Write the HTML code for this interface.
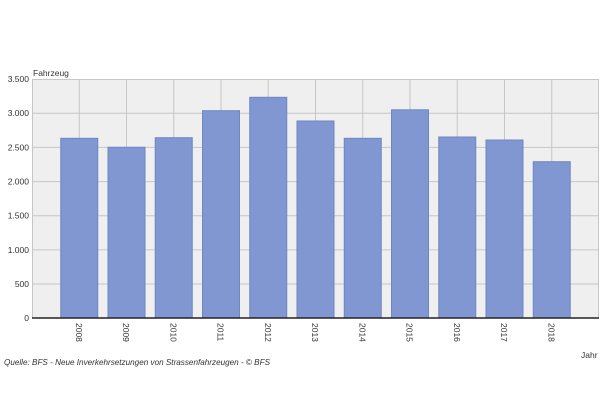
<!DOCTYPE html>
<html><head><meta charset="utf-8"><style>
html,body{margin:0;padding:0;background:#fff;}
svg{display:block;font-family:"Liberation Sans",Arial,sans-serif;}
</style></head><body>
<svg width="606" height="402" viewBox="0 0 606 402" xmlns="http://www.w3.org/2000/svg">
<rect x="0" y="0" width="606" height="402" fill="#fff"/>
<rect x="32" y="79" width="567" height="239" fill="#efefef"/>
<g stroke="#c6c6c6" stroke-width="1">
<line x1="32" y1="79.5" x2="599" y2="79.5"/>
<line x1="32" y1="113.3" x2="599" y2="113.3"/>
<line x1="32" y1="147.4" x2="599" y2="147.4"/>
<line x1="32" y1="181.6" x2="599" y2="181.6"/>
<line x1="32" y1="215.7" x2="599" y2="215.7"/>
<line x1="32" y1="249.9" x2="599" y2="249.9"/>
<line x1="32" y1="284" x2="599" y2="284"/>
<line x1="32.5" y1="79" x2="32.5" y2="318"/>
<line x1="79.25" y1="79" x2="79.25" y2="318"/>
<line x1="126.5" y1="79" x2="126.5" y2="318"/>
<line x1="173.75" y1="79" x2="173.75" y2="318"/>
<line x1="221" y1="79" x2="221" y2="318"/>
<line x1="268.25" y1="79" x2="268.25" y2="318"/>
<line x1="315.5" y1="79" x2="315.5" y2="318"/>
<line x1="362.75" y1="79" x2="362.75" y2="318"/>
<line x1="410" y1="79" x2="410" y2="318"/>
<line x1="457.25" y1="79" x2="457.25" y2="318"/>
<line x1="504.5" y1="79" x2="504.5" y2="318"/>
<line x1="551.75" y1="79" x2="551.75" y2="318"/>
<line x1="598.5" y1="79" x2="598.5" y2="318"/>
</g>
<g fill="#8097d1" stroke="#6f85c6" stroke-width="1">
<rect x="60.75" y="138.3" width="37" height="179.7"/>
<rect x="108" y="147.3" width="37" height="170.7"/>
<rect x="155.25" y="137.7" width="37" height="180.3"/>
<rect x="202.5" y="110.7" width="37" height="207.3"/>
<rect x="249.75" y="97.3" width="37" height="220.7"/>
<rect x="297" y="121" width="37" height="197"/>
<rect x="344.25" y="138.3" width="37" height="179.7"/>
<rect x="391.5" y="109.8" width="37" height="208.2"/>
<rect x="438.75" y="137" width="37" height="181"/>
<rect x="486" y="140" width="37" height="178"/>
<rect x="533.25" y="161.7" width="37" height="156.3"/>
</g>
<line x1="32" y1="318" x2="599" y2="318" stroke="#222" stroke-width="1.5"/>
<g font-size="8.5" fill="#333" text-anchor="end">
<text x="29" y="82">3.500</text>
<text x="29" y="116">3.000</text>
<text x="29" y="150.4">2.500</text>
<text x="29" y="184.6">2.000</text>
<text x="29" y="218.7">1.500</text>
<text x="29" y="252.9">1.000</text>
<text x="29" y="287">500</text>
<text x="29" y="321">0</text>
</g>
<g font-size="8.5" fill="#333">
<text transform="translate(75.9,323) rotate(90)">2008</text>
<text transform="translate(123.2,323) rotate(90)">2009</text>
<text transform="translate(170.4,323) rotate(90)">2010</text>
<text transform="translate(217.7,323) rotate(90)">2011</text>
<text transform="translate(264.9,323) rotate(90)">2012</text>
<text transform="translate(312.2,323) rotate(90)">2013</text>
<text transform="translate(359.4,323) rotate(90)">2014</text>
<text transform="translate(406.7,323) rotate(90)">2015</text>
<text transform="translate(453.9,323) rotate(90)">2016</text>
<text transform="translate(501.2,323) rotate(90)">2017</text>
<text transform="translate(548.4,323) rotate(90)">2018</text>
</g>
<text x="33" y="76" font-size="8.5" fill="#333">Fahrzeug</text>
<text x="581" y="358" font-size="8.5" fill="#333">Jahr</text>
<text x="4" y="365" font-size="8.5" font-style="italic" fill="#333" textLength="266" lengthAdjust="spacingAndGlyphs">Quelle: BFS - Neue Inverkehrsetzungen von Strassenfahrzeugen - © BFS</text>
</svg>
</body></html>
